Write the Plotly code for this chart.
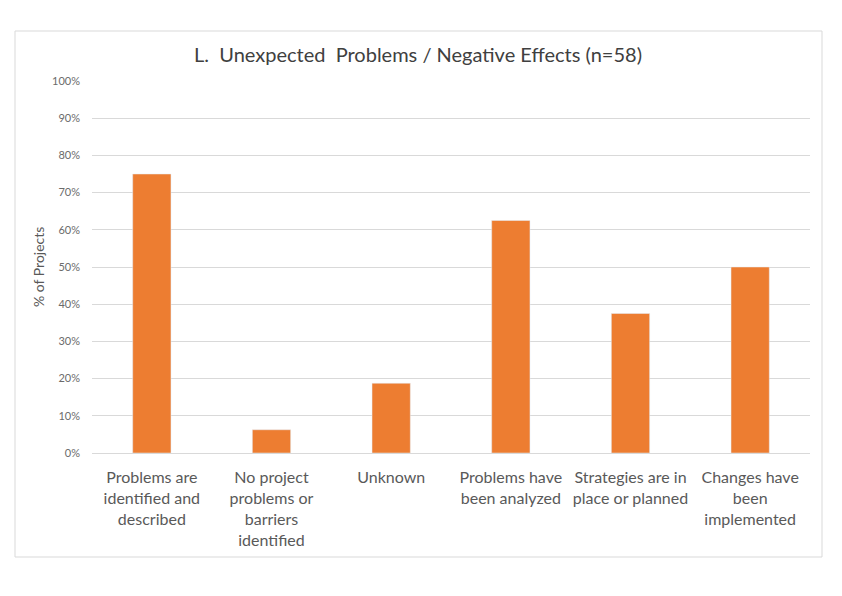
import plotly.graph_objects as go

categories = [
    "Problems are<br>identified and<br>described",
    "No project<br>problems or<br>barriers<br>identified",
    "Unknown",
    "Problems have<br>been analyzed",
    "Strategies are in<br>place or planned",
    "Changes have<br>been<br>implemented",
]
values = [0.75, 0.0625, 0.1875, 0.625, 0.375, 0.50]
y_ticks = [0, 0.1, 0.2, 0.3, 0.4, 0.5, 0.6, 0.7, 0.8, 0.9, 1.0]
y_tick_labels = ["0%", "10%", "20%", "30%", "40%", "50%", "60%", "70%", "80%", "90%", "100%"]
title_text = "L.  Unexpected  Problems / Negative Effects (n=58)"
y_title = "% of Projects"

W, H = 842, 596
L, R, T, B = 92, 32, 81, 143
pw, ph = W - L - R, H - T - B

def px_x(x):
    return (x - L) / pw

def px_y(y):
    return (H - B - y) / ph

fig = go.Figure(go.Bar(x=categories, y=values, marker_color="#ED7D31", width=0.32))

fig.update_layout(
    width=W, height=H,
    margin=dict(l=L, r=R, t=T, b=B, autoexpand=False),
    paper_bgcolor="white", plot_bgcolor="white",
    font=dict(family="Lato", color="#595959"),
    showlegend=False,
    title=dict(text=title_text, x=418 / W, xanchor="center", xref="container",
               y=1 - 55 / H, yanchor="middle", yref="container",
               font=dict(size=20, color="#404040", family="Lato")),
    shapes=[dict(type="rect", xref="paper", yref="paper",
                 x0=px_x(15), x1=px_x(822), y0=px_y(557), y1=px_y(31),
                 line=dict(color="#d9d9d9", width=1), fillcolor="rgba(0,0,0,0)", layer="below")],
    annotations=[dict(text=y_title, xref="paper", yref="paper", x=px_x(38), y=0.5,
                      textangle=-90, showarrow=False, xanchor="center", yanchor="middle",
                      font=dict(size=14, color="#595959", family="Lato"))],
)
fig.update_xaxes(showline=True, linecolor="#d9d9d9", linewidth=1, ticks="",
                 tickfont=dict(size=16, color="#595959"), ticklabelstandoff=10)
fig.update_yaxes(range=[0, 1.0], tickvals=y_ticks, ticktext=y_tick_labels,
                 showgrid=True, gridcolor="#d9d9d9", gridwidth=1, zeroline=False,
                 tickfont=dict(size=11, color="#6b6b6b"), ticklabelstandoff=11)

fig.write_html("out.html", config={"displayModeBar": False},
               post_script="document.body.style.margin='0px';")
